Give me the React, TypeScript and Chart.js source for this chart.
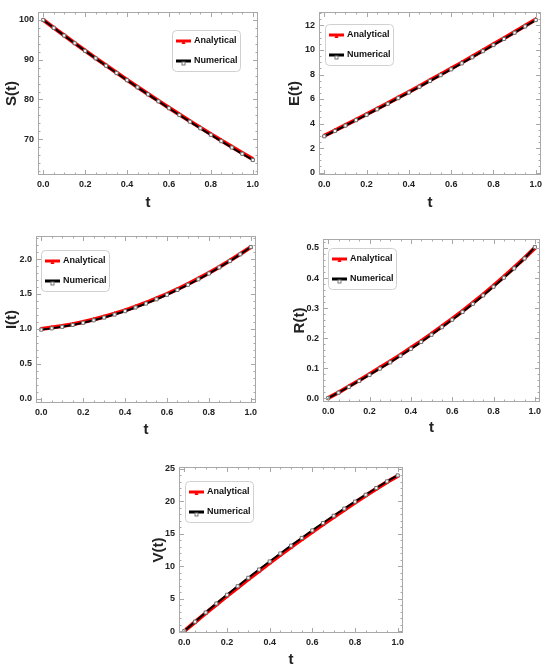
import { useEffect, useRef } from "react";
import Chart from "chart.js/auto";

// time grid (t)
const tValues = [0, 0.05, 0.1, 0.15, 0.2, 0.25, 0.3, 0.35, 0.4, 0.45, 0.5, 0.55, 0.6, 0.65, 0.7, 0.75, 0.8, 0.85, 0.9, 0.95, 1.0];

const sAnalytical = [100, 98.04, 96.1, 94.18, 92.28, 90.41, 88.56, 86.73, 84.92, 83.14, 81.38, 79.64, 77.92, 76.23, 74.56, 72.91, 71.28, 69.68, 68.1, 66.54, 65.0];
const sNumerical = [100, 98.02, 96.07, 94.14, 92.23, 90.35, 88.49, 86.65, 84.83, 83.04, 81.27, 79.52, 77.79, 76.09, 74.41, 72.75, 71.11, 69.5, 67.91, 66.34, 64.78];

const eAnalytical = [3.0, 3.43, 3.87, 4.31, 4.76, 5.21, 5.66, 6.12, 6.58, 7.05, 7.53, 8.0, 8.48, 8.97, 9.46, 9.96, 10.46, 10.96, 11.47, 11.98, 12.5];
const eNumerical = [2.96, 3.39, 3.83, 4.27, 4.71, 5.16, 5.61, 6.07, 6.53, 7.0, 7.47, 7.94, 8.42, 8.91, 9.4, 9.9, 10.4, 10.9, 11.41, 11.92, 12.44];

const iAnalytical = [1.0, 1.019, 1.041, 1.068, 1.1, 1.135, 1.175, 1.218, 1.266, 1.319, 1.375, 1.436, 1.5, 1.569, 1.643, 1.72, 1.802, 1.887, 1.977, 2.072, 2.17];
const iNumerical = [0.99, 1.008, 1.03, 1.057, 1.088, 1.123, 1.163, 1.206, 1.254, 1.307, 1.363, 1.424, 1.489, 1.558, 1.632, 1.71, 1.793, 1.88, 1.971, 2.068, 2.172];

const rAnalytical = [0, 0.019, 0.039, 0.059, 0.08, 0.101, 0.122, 0.144, 0.167, 0.19, 0.214, 0.239, 0.264, 0.29, 0.317, 0.345, 0.374, 0.404, 0.435, 0.467, 0.5];
const rNumerical = [0, 0.018, 0.037, 0.057, 0.077, 0.098, 0.119, 0.141, 0.164, 0.187, 0.211, 0.236, 0.261, 0.287, 0.314, 0.342, 0.371, 0.401, 0.432, 0.465, 0.503];

const vAnalytical = [0, 1.38, 2.74, 4.08, 5.4, 6.7, 7.99, 9.25, 10.5, 11.73, 12.94, 14.13, 15.3, 16.45, 17.59, 18.7, 19.8, 20.88, 21.94, 22.98, 23.9];
const vNumerical = [0, 1.45, 2.86, 4.24, 5.59, 6.91, 8.21, 9.48, 10.73, 11.96, 13.17, 14.36, 15.52, 16.66, 17.78, 18.88, 19.96, 21.02, 22.06, 23.08, 24.0];

// tick labels
const xTicks = [0, 0.2, 0.4, 0.6, 0.8, 1.0];
const sTicks = [70, 80, 90, 100];
const eTicks = [0, 2, 4, 6, 8, 10, 12];
const iTicks = [0, 0.5, 1.0, 1.5, 2.0];
const rTicks = [0, 0.1, 0.2, 0.3, 0.4, 0.5];
const vTicks = [0, 5, 10, 15, 20, 25];

const FONT = "'Liberation Sans', Arial, sans-serif";

type Rect = { left: number; top: number; width: number; height: number };
type PlotRect = { left: number; top: number; right: number; bottom: number };

interface PanelProps {
  yLabel: string;
  analytical: number[];
  numerical: number[];
  yTicks: number[];
  yMin: number;
  yMax: number;
  yMinor: number;
  yDecimals: number;
  box: Rect;
  plot: PlotRect;
  yTitleX: number;
  xTitleY: number;
  legend: { x: number; y: number };
}

const Panel = (p: PanelProps) => {
  const chartRef = useRef<HTMLCanvasElement | null>(null);
  const chartInstance = useRef<Chart | null>(null);

  useEffect(() => {
    if (!chartRef.current) return;
    if (chartInstance.current) chartInstance.current.destroy();

    const ctx = chartRef.current.getContext("2d");
    if (!ctx) return;

    // frame with inward major/minor ticks + inset legend (Mathematica look)
    const framePlugin = {
      id: "frame",
      afterDatasetsDraw(chart: any) {
        const { ctx: c, chartArea: a } = chart;
        const xs = chart.scales.x;
        const ys = chart.scales.y;
        c.save();
        c.strokeStyle = "#a8a8a8";
        c.lineWidth = 1;
        c.strokeRect(a.left + 0.5, a.top + 0.5, a.right - a.left - 1, a.bottom - a.top - 1);
        c.beginPath();
        for (let v = 0; v <= 1.0001; v += 0.05) {
          const px = Math.round(xs.getPixelForValue(v)) + 0.5;
          const major = xTicks.some((t) => Math.abs(t - v) < 1e-6);
          const len = major ? 5 : 2.5;
          c.moveTo(px, a.bottom);
          c.lineTo(px, a.bottom - len);
          c.moveTo(px, a.top);
          c.lineTo(px, a.top + len);
        }
        const start = Math.ceil(p.yMin / p.yMinor) * p.yMinor;
        for (let v = start; v <= p.yMax + 1e-9; v += p.yMinor) {
          const py = Math.round(ys.getPixelForValue(v)) + 0.5;
          const major = p.yTicks.some((t) => Math.abs(t - v) < p.yMinor / 10);
          const len = major ? 5 : 2.5;
          c.moveTo(a.left, py);
          c.lineTo(a.left + len, py);
          c.moveTo(a.right, py);
          c.lineTo(a.right - len, py);
        }
        c.stroke();

        // legend
        const lx = p.legend.x - p.box.left;
        const ly = p.legend.y - p.box.top;
        const w = 68;
        const h = 41;
        c.beginPath();
        c.roundRect(lx + 0.5, ly + 0.5, w, h, 4);
        c.fillStyle = "#ffffff";
        c.fill();
        c.strokeStyle = "#d0d0d0";
        c.stroke();
        chart.data.datasets.forEach((ds: any, i: number) => {
          const ry = ly + 11 + i * 20;
          c.strokeStyle = ds.borderColor;
          c.lineWidth = 3;
          c.beginPath();
          c.moveTo(lx + 4, ry);
          c.lineTo(lx + 19, ry);
          c.stroke();
          // small marker in the middle of the sample
          c.lineWidth = 1;
          if (i === 0) {
            c.fillStyle = ds.borderColor;
            c.beginPath();
            c.moveTo(lx + 11.5, ry - 1);
            c.lineTo(lx + 9.5, ry + 3);
            c.lineTo(lx + 13.5, ry + 3);
            c.closePath();
            c.fill();
          } else {
            c.strokeStyle = "#777";
            c.fillStyle = "#fff";
            c.fillRect(lx + 10, ry + 1, 3, 3);
            c.strokeRect(lx + 10, ry + 1, 3, 3);
          }
          c.fillStyle = "#111";
          c.font = `bold 9px ${FONT}`;
          c.textBaseline = "middle";
          c.fillText(ds.label, lx + 22, ry);
        });
        c.restore();
      },
    };

    const boxRight = p.box.left + p.box.width;
    const boxBottom = p.box.top + p.box.height;

    chartInstance.current = new Chart(ctx, {
      type: "line",
      data: {
        labels: tValues,
        datasets: [
          {
            label: "Analytical",
            data: tValues.map((t, i) => ({ x: t, y: p.analytical[i] })),
            borderColor: "#ff0000",
            backgroundColor: "#ff0000",
            borderWidth: 4,
            pointStyle: "triangle",
            pointRadius: 2,
            pointBorderColor: "#ff0000",
            pointBorderWidth: 1,
            order: 2,
          },
          {
            label: "Numerical",
            data: tValues.map((t, i) => ({ x: t, y: p.numerical[i] })),
            borderColor: "#000000",
            backgroundColor: "#ffffff",
            borderWidth: 2,
            pointStyle: "rect",
            pointRadius: 2.2,
            pointBorderColor: "#707070",
            pointBorderWidth: 1,
            order: 1,
          },
        ],
      },
      options: {
        responsive: false,
        animation: false,
        layout: {
          padding: {
            top: p.plot.top - p.box.top,
            right: boxRight - p.plot.right,
            left: 0,
            bottom: 0,
          },
        },
        plugins: {
          legend: { display: false },
          tooltip: { enabled: false },
        },
        scales: {
          x: {
            type: "linear",
            min: -0.025,
            max: 1.025,
            grid: { display: false, drawTicks: false },
            border: { display: false },
            afterBuildTicks: (s: any) => {
              s.ticks = xTicks.map((v) => ({ value: v }));
            },
            afterFit: (s: any) => {
              s.height = boxBottom - p.plot.bottom;
            },
            ticks: {
              padding: 4,
              maxRotation: 0,
              color: "#222",
              font: { family: FONT, weight: "bold", size: 9 },
              callback: (v: any) => Number(v).toFixed(1),
            },
            title: {
              display: true,
              text: "t",
              color: "#222",
              font: { family: FONT, weight: "bold", size: 15 },
              padding: { top: 0, bottom: boxBottom - p.xTitleY - 9 },
            },
          },
          y: {
            type: "linear",
            min: p.yMin,
            max: p.yMax,
            grid: { display: false, drawTicks: false },
            border: { display: false },
            afterBuildTicks: (s: any) => {
              s.ticks = p.yTicks.map((v) => ({ value: v }));
            },
            afterFit: (s: any) => {
              s.width = p.plot.left - p.box.left;
            },
            ticks: {
              padding: 4,
              color: "#222",
              font: { family: FONT, weight: "bold", size: 9 },
              callback: (v: any) => Number(v).toFixed(p.yDecimals),
            },
            title: {
              display: true,
              text: p.yLabel,
              color: "#222",
              font: { family: FONT, weight: "bold", size: 15 },
              padding: { top: p.yTitleX - p.box.left - 9, bottom: 0 },
            },
          },
        },
      },
      plugins: [framePlugin],
    } as any);

    return () => {
      if (chartInstance.current) {
        chartInstance.current.destroy();
        chartInstance.current = null;
      }
    };
  }, []);

  return (
    <div style={{ position: "absolute", left: p.box.left, top: p.box.top, width: p.box.width, height: p.box.height }}>
      <canvas ref={chartRef} width={p.box.width} height={p.box.height} style={{ width: p.box.width, height: p.box.height }} />
    </div>
  );
};

const App = () => {
  return (
    <div style={{ position: "absolute", left: 0, top: 0, width: 550, height: 671, background: "#fff" }}>
      <Panel
        yLabel="S(t)"
        analytical={sAnalytical}
        numerical={sNumerical}
        yTicks={sTicks}
        yMin={61}
        yMax={102}
        yMinor={2}
        yDecimals={0}
        box={{ left: 0, top: 0, width: 270, height: 215 }}
        plot={{ left: 38, top: 12, right: 258, bottom: 175 }}
        yTitleX={12}
        xTitleY={203}
        legend={{ x: 172, y: 30 }}
      />
      <Panel
        yLabel="E(t)"
        analytical={eAnalytical}
        numerical={eNumerical}
        yTicks={eTicks}
        yMin={-0.2}
        yMax={13.1}
        yMinor={0.5}
        yDecimals={0}
        box={{ left: 275, top: 0, width: 275, height: 215 }}
        plot={{ left: 319, top: 12, right: 541, bottom: 175 }}
        yTitleX={295}
        xTitleY={203}
        legend={{ x: 325, y: 24 }}
      />
      <Panel
        yLabel="I(t)"
        analytical={iAnalytical}
        numerical={iNumerical}
        yTicks={iTicks}
        yMin={-0.06}
        yMax={2.33}
        yMinor={0.1}
        yDecimals={1}
        box={{ left: 0, top: 220, width: 270, height: 220 }}
        plot={{ left: 36, top: 236, right: 256, bottom: 403 }}
        yTitleX={12}
        xTitleY={430}
        legend={{ x: 41, y: 250 }}
      />
      <Panel
        yLabel="R(t)"
        analytical={rAnalytical}
        numerical={rNumerical}
        yTicks={rTicks}
        yMin={-0.013}
        yMax={0.53}
        yMinor={0.02}
        yDecimals={1}
        box={{ left: 275, top: 220, width: 275, height: 220 }}
        plot={{ left: 323, top: 239, right: 540, bottom: 402 }}
        yTitleX={300}
        xTitleY={428}
        legend={{ x: 328, y: 248 }}
      />
      <Panel
        yLabel="V(t)"
        analytical={vAnalytical}
        numerical={vNumerical}
        yTicks={vTicks}
        yMin={-0.3}
        yMax={25.3}
        yMinor={1}
        yDecimals={0}
        box={{ left: 130, top: 440, width: 290, height: 231 }}
        plot={{ left: 179, top: 467, right: 403, bottom: 633 }}
        yTitleX={159}
        xTitleY={660}
        legend={{ x: 185, y: 481 }}
      />
    </div>
  );
};

export default App;
